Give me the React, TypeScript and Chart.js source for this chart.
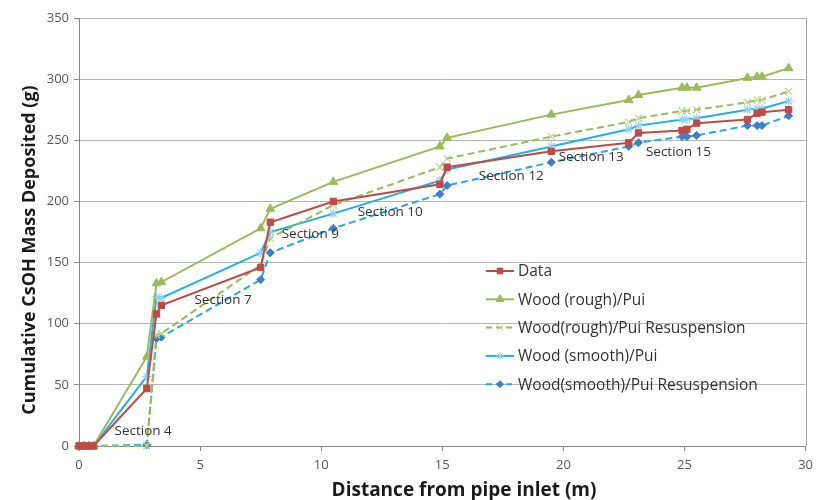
import React, { useEffect, useRef } from "react";
import { Chart, registerables } from "chart.js";
import { drawPoint } from "chart.js/helpers";

Chart.register(...registerables);

const distance = [0, 0.2, 0.4, 0.6, 2.8, 3.2, 3.4, 7.5, 7.9, 10.5, 14.9, 15.2, 19.5, 22.7, 23.1, 24.9, 25.1, 25.5, 27.6, 28.0, 28.2, 29.3];
const dataMeasured = [0, 0, 0, 0, 47, 108, 115, 146, 183, 200, 214, 228, 241, 248, 256, 258, 259, 264, 267, 272, 273, 275];
const woodRough = [0, 0, 0, 0, 73, 133, 134, 178, 194, 216, 245, 252, 271, 283, 287, 293, 293, 293, 301, 302, 302, 309];
const woodRoughResus = [0, 0, 0, 0, 0, 91, 92, 148, 170, 197, 228, 235, 253, 265, 268, 274, 274, 275, 281, 283, 283, 290];
const woodSmooth = [0, 0, 0, 0, 57, 122, 121, 158, 175, 190, 217, 226, 245, 259, 262, 267, 267, 268, 275, 276, 276, 282];
const woodSmoothResus = [0, 0, 0, 0, 1, 88, 89, 136, 158, 178, 206, 213, 232, 245, 248, 253, 253, 254, 262, 262, 262, 270];

const seriesNames = ["Data", "Wood (rough)/Pui", "Wood(rough)/Pui Resuspension", "Wood (smooth)/Pui", "Wood(smooth)/Pui Resuspension"];

const sectionNames = ["Section 4", "Section 7", "Section 9", "Section 10", "Section 12", "Section 13", "Section 15"];
const sectionX = [2.65, 5.95, 9.55, 12.85, 17.85, 21.15, 24.75];
const sectionY = [12, 119, 173, 191, 221, 236, 240];

const yTicks = [0, 50, 100, 150, 200, 250, 300, 350];
const xTicks = [0, 5, 10, 15, 20, 25, 30];

const xTitle = "Distance from pipe inlet (m)";
const yTitle = "Cumulative CsOH Mass Deposited (g)";

const FONT = "'Open Sans', sans-serif";

const toPts = (ys: number[]) => distance.map((x, i) => ({ x, y: ys[i] }));

export default function App() {
  const ref = useRef<HTMLCanvasElement | null>(null);
  useEffect(() => {
    document.body.style.margin = "0";
    const canvas = ref.current;
    if (!canvas) return;

    const styles = [
      { color: "#BE4B48", pointStyle: "rect", radius: 4.5, dash: [] as number[], pColor: "#BE4B48", pBorder: "#BE4B48" },
      { color: "#9BBB59", pointStyle: "triangle", radius: 5, dash: [], pColor: "#9BBB59", pBorder: "#9BBB59" },
      { color: "#9BBB59", pointStyle: "crossRot", radius: 5, dash: [7, 4], pColor: "#C3DDA0", pBorder: "#B7D68E" },
      { color: "#1FB0E8", pointStyle: "star", radius: 4.5, dash: [], pColor: "#8FD3F2", pBorder: "#8FD3F2" },
      { color: "#2AA6E4", pointStyle: "rectRot", radius: 4, dash: [7, 4], pColor: "#3A7FC8", pBorder: "#3A7FC8" },
    ];
    const allSeries = [dataMeasured, woodRough, woodRoughResus, woodSmooth, woodSmoothResus];

    const datasets = allSeries.map((s, i) => ({
      label: seriesNames[i],
      data: toPts(s),
      showLine: true,
      borderColor: styles[i].color,
      borderWidth: 2,
      borderDash: styles[i].dash,
      backgroundColor: styles[i].pColor,
      pointBackgroundColor: styles[i].pColor,
      pointBorderColor: styles[i].pBorder,
      pointBorderWidth: i === 2 || i === 3 ? 1.2 : 1,
      pointStyle: styles[i].pointStyle,
      pointRadius: styles[i].radius,
      clip: false as any,
      order: i,
    }));

    const overlay = {
      id: "overlay",
      afterDatasetsDraw(chart: any) {
        const { ctx, chartArea, scales } = chart;
        ctx.save();
        ctx.strokeStyle = "#A6A6A6";
        ctx.lineWidth = 1;
        ctx.beginPath();
        ctx.moveTo(Math.round(chartArea.right) + 0.5, chartArea.top);
        ctx.lineTo(Math.round(chartArea.right) + 0.5, chartArea.bottom);
        ctx.stroke();
        ctx.fillStyle = "#333333";
        ctx.font = `13.5px ${FONT}`;
        ctx.textAlign = "center";
        ctx.textBaseline = "middle";
        sectionNames.forEach((n, i) => {
          ctx.fillText(n, scales.x.getPixelForValue(sectionX[i]), scales.y.getPixelForValue(sectionY[i]));
        });
        // axis titles
        ctx.fillStyle = "#1a1a1a";
        ctx.font = `bold 19px ${FONT}`;
        ctx.fillText(xTitle, 464, 491);
        ctx.save();
        ctx.translate(30, 250);
        ctx.rotate(-Math.PI / 2);
        ctx.font = `bold 18px ${FONT}`;
        ctx.fillText(yTitle, 0, 0);
        ctx.restore();
        // legend
        const lx = 486;
        const ly0 = 271;
        const step = 28.3;
        ctx.textAlign = "left";
        ctx.font = `15.5px ${FONT}`;
        styles.forEach((st, i) => {
          const y = ly0 + i * step;
          ctx.strokeStyle = st.color;
          ctx.lineWidth = 2;
          ctx.setLineDash(st.dash.length ? [6, 4] : []);
          ctx.beginPath();
          ctx.moveTo(lx, y);
          ctx.lineTo(lx + 28, y);
          ctx.stroke();
          ctx.setLineDash([]);
          ctx.fillStyle = st.pColor;
          ctx.strokeStyle = st.pBorder;
          ctx.lineWidth = 1;
          drawPoint(ctx, { pointStyle: st.pointStyle as any, radius: st.radius - 0.5, rotation: 0, borderWidth: 1 }, lx + 14, y);
          ctx.fillStyle = "#333333";
          ctx.fillText(seriesNames[i], lx + 32, y + 1);
        });
        ctx.restore();
      },
    };

    const chart = new Chart(canvas, {
      type: "scatter",
      data: { datasets: datasets as any },
      options: {
        animation: false,
        responsive: false,
        maintainAspectRatio: false,
        layout: { padding: { top: 18, right: 11, left: 0, bottom: 0 } },
        plugins: { legend: { display: false }, tooltip: { enabled: false } },
        scales: {
          x: {
            type: "linear",
            min: 0,
            max: 30,
            afterBuildTicks: (s: any) => { s.ticks = xTicks.map((v) => ({ value: v })); },
            afterFit: (s: any) => { s.height = 54; },
            grid: { drawOnChartArea: false, drawTicks: true, tickLength: 5, color: "#888888" },
            border: { color: "#888888" },
            ticks: { color: "#595959", font: { family: FONT, size: 13 }, padding: 6, maxRotation: 0 },
            title: { display: false },
          },
          y: {
            type: "linear",
            min: 0,
            max: 350,
            afterBuildTicks: (s: any) => { s.ticks = yTicks.map((v) => ({ value: v })); },
            afterFit: (s: any) => { s.width = 79; },
            grid: { color: "#B4B4B4", tickLength: 5, tickColor: "#888888" },
            border: { color: "#888888" },
            ticks: { color: "#595959", font: { family: FONT, size: 13 }, padding: 5 },
            title: { display: false },
          },
        },
      },
      plugins: [overlay],
    });
    return () => chart.destroy();
  }, []);
  return <canvas ref={ref} width={819} height={500} style={{ display: "block" }} />;
}
